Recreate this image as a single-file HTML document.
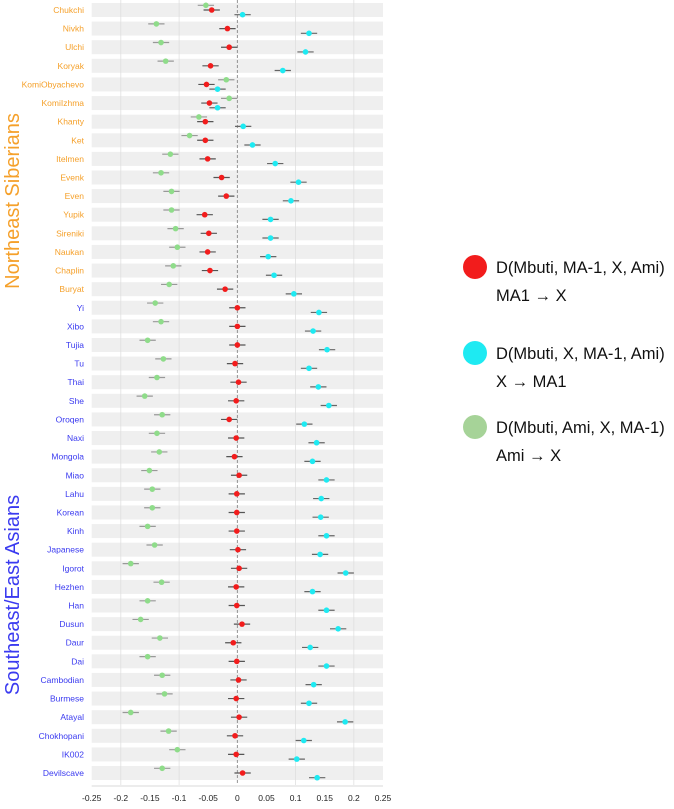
<!DOCTYPE html>
<html><head><meta charset="utf-8"><style>
body{margin:0;background:#fff;width:674px;height:804px;overflow:hidden;font-family:"Liberation Sans",Arial,sans-serif}
</style></head><body>
<svg id="chart" width="674" height="804" xmlns="http://www.w3.org/2000/svg" font-family="Liberation Sans, Arial, sans-serif"></svg>
<script>
const populations=["Chukchi","Nivkh","Ulchi","Koryak","KomiObyachevo","KomiIzhma","Khanty","Ket","Itelmen","Evenk","Even","Yupik","Sireniki","Naukan","Chaplin","Buryat","Yi","Xibo","Tujia","Tu","Thai","She","Oroqen","Naxi","Mongola","Miao","Lahu","Korean","Kinh","Japanese","Igorot","Hezhen","Han","Dusun","Daur","Dai","Cambodian","Burmese","Atayal","Chokhopani","IK002","Devilscave"];
const groupOf=["NE","NE","NE","NE","NE","NE","NE","NE","NE","NE","NE","NE","NE","NE","NE","NE","SE","SE","SE","SE","SE","SE","SE","SE","SE","SE","SE","SE","SE","SE","SE","SE","SE","SE","SE","SE","SE","SE","SE","SE","SE","SE"];
const redValues=[-0.044,-0.017,-0.014,-0.046,-0.053,-0.048,-0.055,-0.055,-0.051,-0.027,-0.019,-0.056,-0.049,-0.051,-0.047,-0.021,0,0,0,-0.004,0.002,-0.002,-0.014,-0.002,-0.005,0.003,-0.001,-0.001,-0.001,0.001,0.003,-0.002,-0.001,0.008,-0.007,-0.001,0.002,-0.002,0.003,-0.004,-0.002,0.009];
const cyanValues=[0.009,0.123,0.117,0.078,-0.034,-0.034,0.010,0.026,0.065,0.105,0.092,0.057,0.057,0.053,0.063,0.097,0.140,0.130,0.154,0.123,0.139,0.157,0.115,0.136,0.129,0.153,0.144,0.143,0.153,0.142,0.186,0.129,0.153,0.173,0.125,0.153,0.131,0.123,0.185,0.114,0.102,0.137];
const greenValues=[-0.054,-0.139,-0.131,-0.123,-0.019,-0.014,-0.066,-0.082,-0.115,-0.131,-0.113,-0.113,-0.106,-0.103,-0.110,-0.117,-0.141,-0.131,-0.154,-0.127,-0.138,-0.159,-0.129,-0.138,-0.134,-0.151,-0.146,-0.146,-0.154,-0.142,-0.183,-0.130,-0.154,-0.166,-0.133,-0.154,-0.129,-0.125,-0.183,-0.118,-0.103,-0.129];
const errHalf=[0.014];
const xTicks=[-0.25,-0.2,-0.15,-0.1,-0.05,0,0.05,0.1,0.15,0.2,0.25];
const xTickLabels=["-0.25","-0.2","-0.15","-0.1","-0.05","0","0.05","0.1","0.15","0.2","0.25"];

const svg=document.getElementById('chart');
const NS="http://www.w3.org/2000/svg";
const X0=91.7,X1=383,V0=-0.25,V1=0.25;
function xs(v){return X0+(v-V0)/(V1-V0)*(X1-X0);}
const Y0=10,STEP=18.61;
function ys(i){return Y0+i*STEP;}
function mk(tag,attrs,parent){const e=document.createElementNS(NS,tag);for(const k in attrs)e.setAttribute(k,attrs[k]);(parent||svg).appendChild(e);return e;}

// bands
populations.forEach((p,i)=>{
  const b=mk('rect',{x:X0,y:ys(i)-7,width:X1-X0,height:14,fill:'#efefef'});
  
  
});
// grid
[-0.2,-0.1,0.1,0.2].forEach(v=>{
  const g=mk('line',{x1:xs(v),x2:xs(v),y1:0,y2:785,stroke:'#dcdcdc','stroke-width':0.7});
  
  
});
const zl=mk('line',{x1:xs(0),x2:xs(0),y1:0,y2:785,stroke:'#888','stroke-width':0.9,'stroke-dasharray':'3,2'});


// x axis
const ax=mk('line',{x1:X0,x2:X1,y1:786,y2:786,stroke:'#ccc','stroke-width':0.7});


xTicks.forEach((v,i)=>{
  const t=mk('text',{x:xs(v),y:801,'font-size':8.5,'text-anchor':'middle',fill:'#222'});
  t.textContent=xTickLabels[i];
  
  
});
// labels
populations.forEach((p,i)=>{
  const t=mk('text',{x:84,y:ys(i)+3,'font-size':8.5,'text-anchor':'end',fill:groupOf[i]==='NE'?'#f5a02a':'#3a3af0'});
  t.textContent=p;
  
  
});
function series(vals,dy,color,ebColor,name){
  vals.forEach((v,i)=>{
    const y=ys(i)+dy;
    const l=mk('line',{x1:xs(v-errHalf[0]),x2:xs(v+errHalf[0]),y1:y,y2:y,stroke:ebColor,'stroke-width':1.2});
    
    
    const c=mk('circle',{cx:xs(v),cy:y,r:2.8,fill:color});
    
    
  });
}
series(greenValues,-4.7,'#8fdc8a','#999','green');
series(redValues,0,'#f21c1c','#555','red');
series(cyanValues,4.7,'#1eeaf2','#666','cyan');
// group titles
const g1=mk('text',{x:0,y:0,'font-size':20,'text-anchor':'middle',fill:'#f5a02a',transform:'translate(19,201) rotate(-90)'});
g1.textContent='Northeast Siberians';


const g2=mk('text',{x:0,y:0,'font-size':20,'text-anchor':'middle',fill:'#3a3af0',transform:'translate(19,595) rotate(-90)'});
g2.textContent='Southeast/East Asians';


// legend
const leg=[["#f21c1c","D(Mbuti, MA-1, X, Ami)","MA1 \u2192 X",267],["#1eeaf2","D(Mbuti, X, MA-1, Ami)","X \u2192 MA1",353],["#a6d398","D(Mbuti, Ami, X, MA-1)","Ami \u2192 X",427]];
leg.forEach(l=>{
  const c=mk('circle',{cx:475,cy:l[3],r:12,fill:l[0]});
  
  
  const t=mk('text',{x:496,y:l[3]+6,'font-size':16.5,fill:'#111'});
  t.textContent=l[1];
  
  
  const t2=mk('text',{x:496,y:l[3]+34,'font-size':16.5,fill:'#111'});
  t2.textContent=l[2];
  
  
});
</script>
</body></html>
